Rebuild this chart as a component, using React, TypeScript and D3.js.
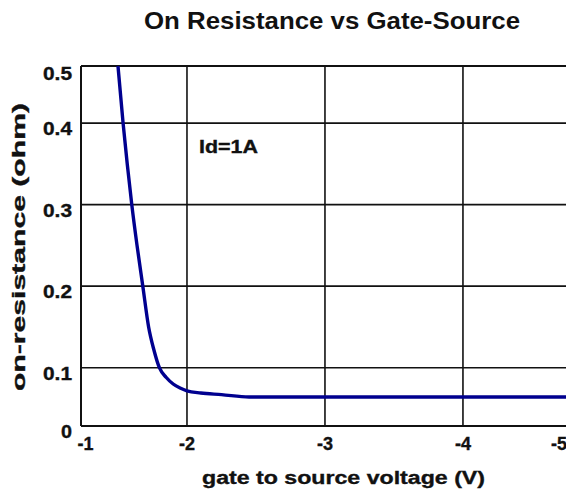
import React from "react";
import * as d3 from "d3";

// ---- data ----
const voltage = [-1.50, -1.537, -1.567, -1.60, -1.638, -1.68, -1.722, -1.76, -1.80, -1.85, -1.90, -1.95, -2.0, -2.1, -2.25, -2.45, -3.0, -4.0, -4.76];
const resistance = [0.47, 0.40, 0.35, 0.30, 0.25, 0.20, 0.15, 0.122, 0.10, 0.088, 0.080, 0.075, 0.0716, 0.069, 0.067, 0.064, 0.064, 0.064, 0.064];

const xGridValues = [-2, -3, -4];
const xTickLabels = ["-1", "-2", "-3", "-4", "-5"];
const yGridValues = [0.1, 0.2, 0.3, 0.4];
const yTickLabels = ["0", "0.1", "0.2", "0.3", "0.4", "0.5"];

const titleText = "On Resistance vs Gate-Source";
const xTitle = "gate to source voltage (V)";
const yTitle = "on-resistance (ohm)";
const annotation = "Id=1A";

const W = 566;
const H = 495;
const left = 81;
const right = 567;
const top = 66;
const bottom = 426;

export default function App() {
  const x = d3.scaleLinear().domain([-1.232, -4.754]).range([left, right]);
  const y = d3.scaleLinear().domain([0.0285, 0.470]).range([bottom, top]);

  const pts = voltage.map((v, i) => [v, resistance[i]] as [number, number]);
  const line = d3
    .line<[number, number]>()
    .x((d) => x(d[0]))
    .y((d) => y(d[1]))
    .curve(d3.curveMonotoneX);

  const xLabelPos = [x.range()[0] + 4.5, x(-2), x(-3), x(-4), W - 7];
  const yLabelPos = [bottom, y(0.1), y(0.2), y(0.3), y(0.4), top + 2];
  const yLabelLen = [11, 29, 29, 29, 29, 29];

  const font = "'Liberation Sans', Arial, sans-serif";
  const ink = "#111";
  const heavy = { stroke: ink, strokeWidth: 0.35 } as const;

  return (
    <svg
      width={W}
      height={H}
      style={{ position: "absolute", left: 0, top: 0, background: "#fff" }}
      fontFamily={font}
    >
      <rect x={0} y={0} width={W} height={H} fill="#fff" />
      <text
        x={144}
        y={29}
        fontSize={23}
        fontWeight="bold"
        textLength={376}
        lengthAdjust="spacingAndGlyphs"
        fill={ink}
      >
        {titleText}
      </text>

      <defs>
        <clipPath id="plotClip">
          <rect x={left} y={top} width={right - left} height={bottom - top} />
        </clipPath>
      </defs>

      {xGridValues.map((v) => (
        <line key={"gx" + v} x1={x(v)} x2={x(v)} y1={top} y2={bottom} stroke={ink} strokeWidth={1.6} />
      ))}
      {yGridValues.map((v) => (
        <line key={"gy" + v} x1={left} x2={right} y1={y(v)} y2={y(v)} stroke={ink} strokeWidth={1.6} />
      ))}

      <line x1={left} x2={right} y1={top} y2={top} stroke={ink} strokeWidth={2} />
      <line x1={left} x2={right} y1={bottom} y2={bottom} stroke={ink} strokeWidth={2} />
      <line x1={left} x2={left} y1={top} y2={bottom} stroke={ink} strokeWidth={2} />

      <path d={line(pts) || ""} fill="none" stroke="#00008f" strokeWidth={3.4} clipPath="url(#plotClip)" />

      <text x={199} y={153} fontSize={18} fontWeight="bold" textLength={59} lengthAdjust="spacingAndGlyphs" fill={ink} {...heavy}>
        {annotation}
      </text>

      {xTickLabels.map((t, i) => (
        <text key={"xt" + t} x={xLabelPos[i]} y={450} fontSize={18} fontWeight="bold" textAnchor="middle" fill={ink} {...heavy}>
          {t}
        </text>
      ))}

      {yTickLabels.map((t, i) => (
        <text
          key={"yt" + t}
          x={72}
          y={yLabelPos[i] + 12}
          fontSize={18}
          fontWeight="bold"
          textAnchor="end"
          textLength={yLabelLen[i]}
          lengthAdjust="spacingAndGlyphs"
          fill={ink}
          {...heavy}
        >
          {t}
        </text>
      ))}

      <text x={202} y={484} fontSize={18} fontWeight="bold" textLength={283} lengthAdjust="spacingAndGlyphs" fill={ink} {...heavy}>
        {xTitle}
      </text>
      <text
        transform="translate(25,247) rotate(-90)"
        x={0}
        y={0}
        fontSize={18}
        fontWeight="bold"
        textAnchor="middle"
        textLength={288}
        lengthAdjust="spacingAndGlyphs"
        fill={ink}
        {...heavy}
      >
        {yTitle}
      </text>
    </svg>
  );
}
